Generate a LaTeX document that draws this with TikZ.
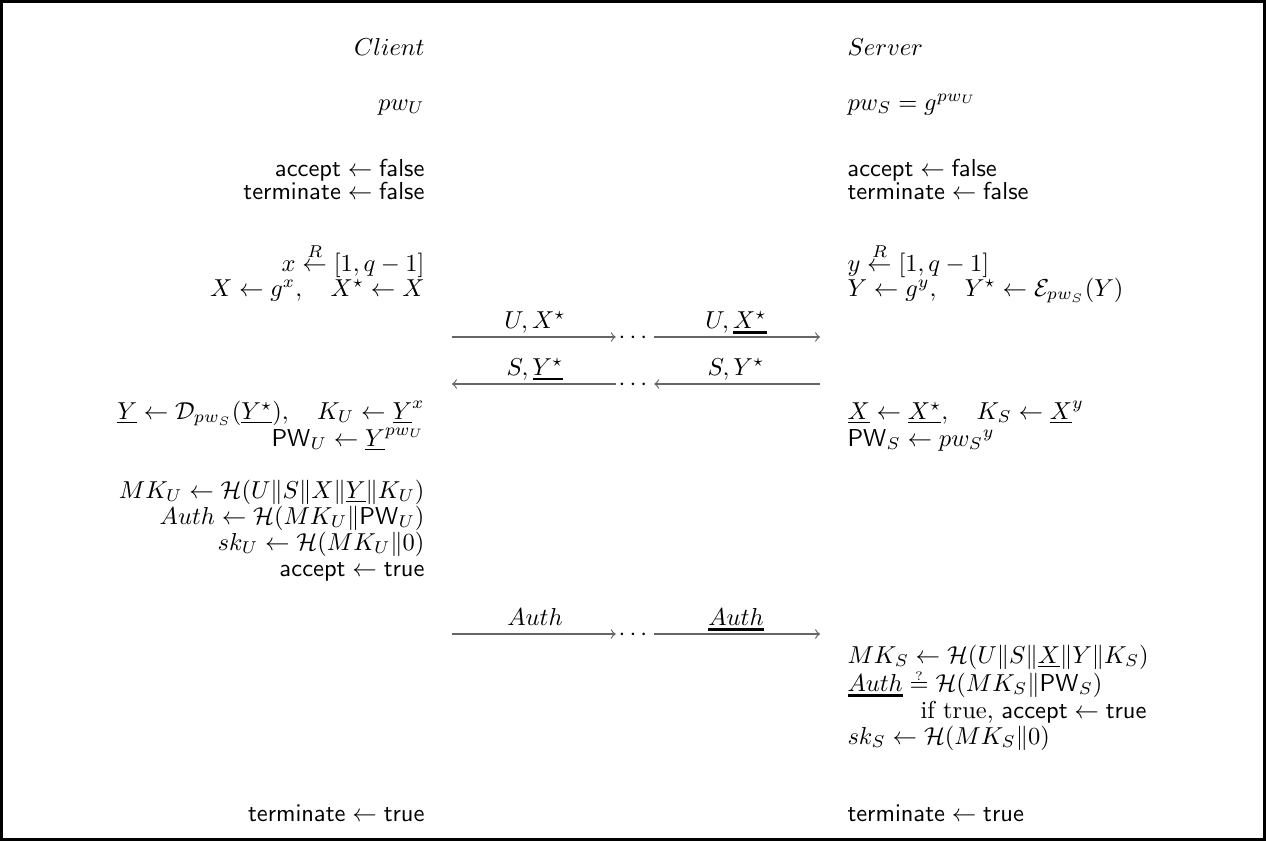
\documentclass[tikz,border=0pt]{standalone}
\usepackage{amsmath,amssymb}
\newcommand{\thkul}[2]{\mathord{\vtop{\hbox{$#2$}\kern1.2pt\hrule height #1}}}
\newcommand{\qeq}{\mathrel{\vbox{\offinterlineskip\halign{\hfil##\hfil\cr$\scriptscriptstyle ?$\cr\noalign{\kern0.5pt}$=$\cr}}}}
\tikzset{
  cl/.style={anchor=base east, inner sep=0pt},
  sv/.style={anchor=base west, inner sep=0pt},
  msg/.style={anchor=base, inner sep=0pt},
  wire/.style={draw=black!60, line width=0.5pt},
  gapdots/.style={anchor=base, inner sep=1pt},
  frame/.style={draw=black, line width=1.2pt}
}
\begin{document}
\begin{tikzpicture}[x=0.4082pt, y=-0.4082pt]
\useasboundingbox (0,0) rectangle (1266,841);
\draw[frame] (1.5,1.5) rectangle (1264.5,839.5);

% headers
\node[cl] (client) at (425,55) {$Client$};
\node[sv] (server) at (847,55) {$Server$};
\node[cl] (pwU) at (425,110) {$pw_U$};
\node[sv] (pwS) at (847,110) {$pw_S = g^{pw_U}$};
\node[cl] (accU) at (425,176) {$\mathsf{accept} \leftarrow \mathsf{false}$};
\node[cl] (terU) at (425,199) {$\mathsf{terminate} \leftarrow \mathsf{false}$};
\node[sv] (accS) at (847,176) {$\mathsf{accept} \leftarrow \mathsf{false}$};
\node[sv] (terS) at (847,199) {$\mathsf{terminate} \leftarrow \mathsf{false}$};

\node[cl] (xr) at (425,271) {$x \stackrel{R}{\leftarrow} [1, q-1]$};
\node[cl] (Xg) at (425,296) {$X \leftarrow g^x, \quad X^\star \leftarrow X$};
\node[sv] (yr) at (847,271) {$y \stackrel{R}{\leftarrow} [1, q-1]$};
\node[sv] (Yg) at (847,296) {$Y \leftarrow g^y, \quad Y^\star \leftarrow \mathcal{E}_{pw_S}(Y)$};

% message 1
\coordinate (m1l) at (452,337);
\coordinate (m1r) at (820,337);
\node[gapdots] (d1) at (635,343) {$\cdots$};
\node[msg] (l1a) at (535,328) {$U, X^\star$};
\node[msg] (l1b) at (736,328) {$U, \thkul{1.3pt}{X^\star}$};
\draw[wire,->] (m1l) -- (d1.west |- m1l);
\draw[wire,->] (d1.east |- m1l) -- (m1r);

% message 2
\coordinate (m2l) at (452,384);
\coordinate (m2r) at (820,384);
\node[gapdots] (d2) at (635,390) {$\cdots$};
\node[msg] (l2a) at (535,375) {$S, \thkul{0.9pt}{Y^\star}$};
\node[msg] (l2b) at (736,375) {$S, Y^\star$};
\draw[wire,<-] (m2l) -- (d2.west |- m2l);
\draw[wire,<-] (d2.east |- m2l) -- (m2r);

% after message 2
\node[cl] (YD) at (425,419) {$\underline{Y} \leftarrow \mathcal{D}_{pw_S}(\underline{Y^\star}), \quad K_U \leftarrow \underline{Y}^x$};
\node[cl] (PWU) at (425,446) {$\mathsf{PW}_U \leftarrow \underline{Y}^{pw_U}$};
\node[sv] (XX) at (847,419) {$\underline{X} \leftarrow \underline{X^\star}, \quad K_S \leftarrow \underline{X}^y$};
\node[sv] (PWS) at (847,446) {$\mathsf{PW}_S \leftarrow {pw_S}^y$};

\node[cl] (MKU) at (425,498) {$MK_U \leftarrow \mathcal{H}(U \| S \| X \| \underline{Y} \| K_U)$};
\node[cl] (AuthU) at (425,524) {$Auth \leftarrow \mathcal{H}(MK_U \| \mathsf{PW}_U)$};
\node[cl] (skU) at (425,550) {$sk_U \leftarrow \mathcal{H}(MK_U \| 0)$};
\node[cl] (accU2) at (425,576) {$\mathsf{accept} \leftarrow \mathsf{true}$};

% message 3
\coordinate (m3l) at (452,634);
\coordinate (m3r) at (820,634);
\node[gapdots] (d3) at (635,640) {$\cdots$};
\node[msg] (l3a) at (535,625) {$Auth$};
\node[msg] (l3b) at (736,625) {$\thkul{1.3pt}{Auth}$};
\draw[wire,->] (m3l) -- (d3.west |- m3l);
\draw[wire,->] (d3.east |- m3l) -- (m3r);

% server final
\node[sv] (MKS) at (847,663) {$MK_S \leftarrow \mathcal{H}(U \| S \| \underline{X} \| Y \| K_S)$};
\node[sv] (chk) at (847,691) {$\thkul{1.3pt}{Auth} \qeq \mathcal{H}(MK_S \| \mathsf{PW}_S)$};
\node[anchor=base east, inner sep=0pt] (iftrue) at (1147,718) {if true, $\mathsf{accept} \leftarrow \mathsf{true}$};
\node[sv] (skS) at (847,744) {$sk_S \leftarrow \mathcal{H}(MK_S \| 0)$};

\node[cl] (terU2) at (425,821) {$\mathsf{terminate} \leftarrow \mathsf{true}$};
\node[sv] (terS2) at (847,821) {$\mathsf{terminate} \leftarrow \mathsf{true}$};
\end{tikzpicture}
\end{document}
